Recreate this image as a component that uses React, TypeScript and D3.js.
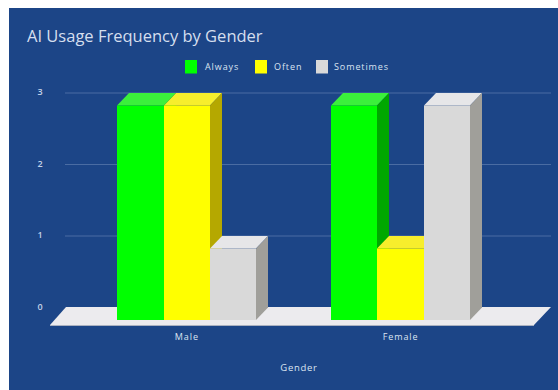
import React from "react";
import * as d3 from "d3";

const genders = ["Male", "Female"];
const seriesNames = ["Always", "Often", "Sometimes"];
const alwaysValues = [3, 3];
const oftenValues = [3, 1];
const sometimesValues = [1, 3];
const yTicks = [0, 1, 2, 3];

const valuesBySeries = [alwaysValues, oftenValues, sometimesValues];

const faceColors = [
  { front: "#00ff00", side: "#00a800", top: "#3bf03b" },
  { front: "#ffff00", side: "#b5a800", top: "#f7ee2c" },
  { front: "#d9d9d9", side: "#a09f9a", top: "#e6e6e8" },
];

const legendLayout = [
  { box: 185, text: 205 },
  { box: 255, text: 274 },
  { box: 316, text: 334 },
];

const font = "'Open Sans', sans-serif";
const labelColor = "#dbe4f1";

// Oblique offset between the front plane and the back wall
const depthX = 12;
const depthY = 12.5;

const y = d3.scaleLinear().domain([0, 3]).range([307.5, 93]);
const xGroup = d3
  .scaleBand<string>()
  .domain(genders)
  .range([80, 507.5])
  .paddingInner(0.35)
  .paddingOuter(0.175);
const xSeries = d3
  .scaleBand<string>()
  .domain(seriesNames)
  .range([0, xGroup.bandwidth()]);

const polygon = d3.line<[number, number]>();

function Bar({ x, width, value, colors }: { x: number; width: number; value: number; colors: (typeof faceColors)[number] }) {
  const topFront = y(value) + depthY;
  const baseFront = y(0) + depthY;
  const left = Math.round(x);
  const right = Math.round(x + width);
  return (
    <g shapeRendering="geometricPrecision">
      <path
        d={polygon([[left, topFront], [left + depthX, topFront - depthY], [right + depthX, topFront - depthY], [right, topFront]]) + "Z"}
        fill={colors.top}
      />
      <path
        d={polygon([[right, topFront], [right + depthX, topFront - depthY], [right + depthX, baseFront - depthY], [right, baseFront]]) + "Z"}
        fill={colors.side}
      />
      <rect x={left} y={topFront} width={right - left} height={baseFront - topFront} fill={colors.front} />
    </g>
  );
}

export default function App() {
  return (
    <svg width={558} height={390} style={{ position: "absolute", left: 0, top: 0 }}>
      <rect x={0} y={0} width={558} height={390} fill="#ffffff" />
      <rect x={9} y={8} width={549} height={382} fill="#1c4587" />

      <text x={27} y={42} fontFamily={font} fontSize={16.5} fill="#d5dfee">
        AI Usage Frequency by Gender
      </text>

      {seriesNames.map((name, i) => (
        <g key={name}>
          <rect x={legendLayout[i].box} y={60} width={12} height={13.5} fill={faceColors[i].front} />
          <text x={legendLayout[i].text} y={70} fontFamily={font} fontSize={9} letterSpacing={0.9} fill={labelColor}>
            {name}
          </text>
        </g>
      ))}

      {yTicks.map((t) => (
        <g key={t}>
          {t > 0 && <line x1={65} x2={551} y1={y(t)} y2={y(t)} stroke="#4a6ca3" strokeWidth={1} />}
          <text x={40} y={y(t) + 2} textAnchor="middle" fontFamily={font} fontSize={9} fontWeight={600} fill="#c3d2e8">
            {t}
          </text>
        </g>
      ))}

      {/* Floor slab under the columns */}
      <path d={polygon([[50, 325], [66, 307], [551, 307], [534, 325]]) + "Z"} fill="#ecebee" />
      <rect x={50} y={325} width={484} height={1} fill="#aab1c0" />

      {genders.map((g, gi) => (
        <g key={g}>
          {seriesNames.map((s, si) => (
            <Bar
              key={s}
              x={(xGroup(g) as number) + (xSeries(s) as number)}
              width={xSeries.bandwidth()}
              value={valuesBySeries[si][gi]}
              colors={faceColors[si]}
            />
          ))}
          <text
            x={(xGroup(g) as number) + xGroup.bandwidth() / 2}
            y={340}
            textAnchor="middle"
            fontFamily={font}
            fontSize={9}
            letterSpacing={0.9}
            fill={labelColor}
          >
            {g}
          </text>
        </g>
      ))}

      <text x={299} y={371} textAnchor="middle" fontFamily={font} fontSize={9.5} letterSpacing={0.7} fill={labelColor}>
        Gender
      </text>
    </svg>
  );
}
